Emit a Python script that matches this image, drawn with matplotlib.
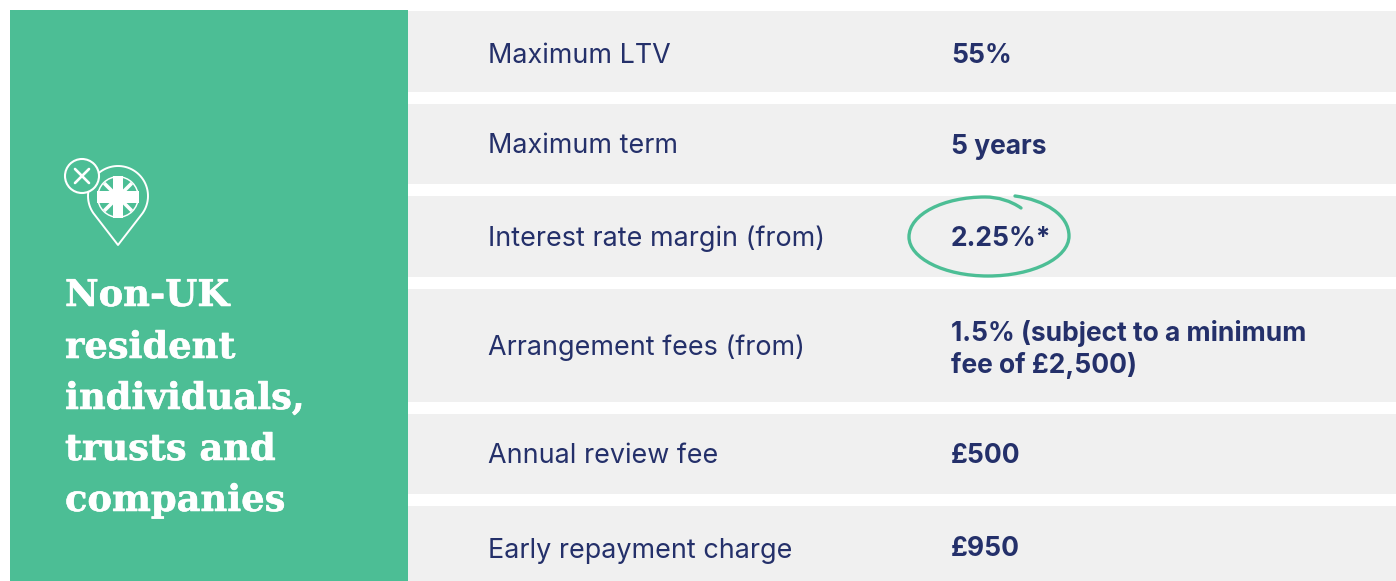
import matplotlib
matplotlib.use("Agg")
import matplotlib.patheffects as pe
import matplotlib.pyplot as plt
import numpy as np
from matplotlib.patches import Circle, PathPatch, Polygon, Rectangle
from matplotlib.path import Path

W, H = 1396, 581
GREEN = "#4cbe95"
NAVY = "#24306a"
GREY = "#f0f0f0"

heading = ["Non-UK", "resident", "individuals,", "trusts and", "companies"]
row_labels = [
    "Maximum LTV",
    "Maximum term",
    "Interest rate margin (from)",
    "Arrangement fees (from)",
    "Annual review fee",
    "Early repayment charge",
]
row_values = [
    "55%",
    "5 years",
    "2.25%*",
    "1.5% (subject to a minimum\nfee of £2,500)",
    "£500",
    "£950",
]

# pixel layout of the table
row_tops = [11, 104, 196, 289, 414, 506]
row_bottoms = [92, 184, 277, 402, 494, 581]
label_ys = [53, 143, 236, 345, 453, 548]
value_ys = [53, 144, 236, 344, 453, 546]
heading_ys = [292, 344, 395, 446, 497]

SANS = ["Inter", "Noto Sans", "DejaVu Sans"]

fig = plt.figure(figsize=(W / 100, H / 100), dpi=100)
ax = fig.add_axes([0, 0, 1, 1])
ax.set_xlim(0, W)
ax.set_ylim(H, 0)
ax.axis("off")

# --- Background panels ---
ax.add_patch(Rectangle((10, 10), 398, H - 10, fc=GREEN, ec="none"))
for top, bottom in zip(row_tops, row_bottoms):
    ax.add_patch(Rectangle((408, top), W - 408, bottom - top, fc=GREY, ec="none"))

# --- Table text ---
for label, y in zip(row_labels, label_ys):
    ax.text(488, y, label, color=NAVY, fontsize=19.4, family=SANS, va="center_baseline")
for value, y in zip(row_values, value_ys):
    ax.text(951, y, value, color=NAVY, fontsize=19, family=SANS, weight="bold",
            va="center_baseline", linespacing=1.22)

# --- Heading ---
for line, y in zip(heading, heading_ys):
    ax.text(65, y, line, color="white", fontsize=26.5, family="DejaVu Serif",
            weight="bold", va="center_baseline",
            path_effects=[pe.withStroke(linewidth=0.4, foreground="white")])

# --- Hand-drawn ring round the rate ---
ring = Path(
    [(1015, 196), (1045, 200), (1069, 215), (1069, 236),
     (1069, 258), (1033, 276), (988, 276),
     (944, 276), (909, 258), (909, 237),
     (909, 214), (944, 197), (985, 197),
     (998, 197), (1011, 201), (1021, 208)],
    [Path.MOVETO] + [Path.CURVE4] * 15,
)
ax.add_patch(PathPatch(ring, fc="none", ec=GREEN, lw=2.4, capstyle="round"))

# --- Pin icon ---
pin_cx, pin_cy, pin_r, tip_y = 118, 196, 30, 245
angles = np.radians(np.linspace(-35, 215, 60))
verts = [(pin_cx, tip_y)]
verts += [(pin_cx + pin_r * np.cos(a), pin_cy - pin_r * np.sin(a)) for a in angles]
verts.append((pin_cx, tip_y))
ax.add_patch(Polygon(verts, closed=True, fc="none", ec="white", lw=1.4, joinstyle="round"))

# flag disc: white rim, green field, white saltire and cross
flag_x, flag_y, flag_r = 118, 197, 21
ax.add_patch(Circle((flag_x, flag_y), flag_r, fc="white", ec="none"))
ax.add_patch(Circle((flag_x, flag_y), flag_r - 1.5, fc=GREEN, ec="none"))
clip = Circle((flag_x, flag_y), flag_r - 1.5, transform=ax.transData)
for sx in (-1, 1):
    for sy in (-1, 1):
        line, = ax.plot([flag_x, flag_x + sx * flag_r], [flag_y, flag_y + sy * flag_r],
                        color="white", lw=2.6)
        line.set_clip_path(clip)
ax.add_patch(Rectangle((flag_x - 5, flag_y - flag_r), 10, 2 * flag_r, fc="white", ec="none"))
ax.add_patch(Rectangle((flag_x - flag_r, flag_y - 6), 2 * flag_r, 12, fc="white", ec="none"))

# --- Cross badge ---
ax.add_patch(Circle((82, 176), 17, fc=GREEN, ec="white", lw=1.5, zorder=5))
for d in (-1, 1):
    ax.plot([75, 89], [176 - d * 7, 176 + d * 7], color="white", lw=1.9,
            solid_capstyle="round", zorder=6)

fig.savefig("out.png", dpi=100)
